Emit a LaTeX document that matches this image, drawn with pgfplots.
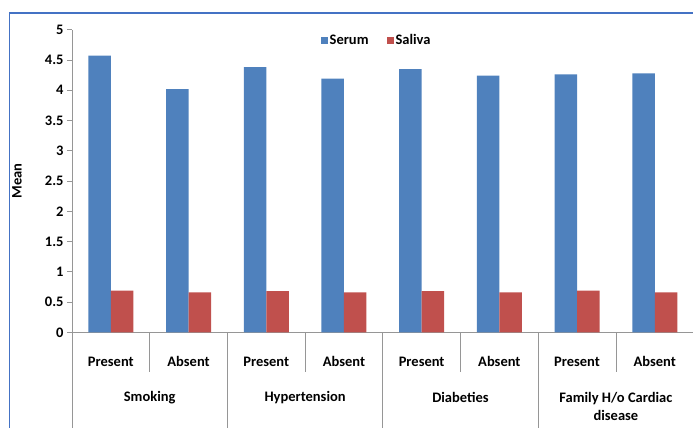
\documentclass[border=0pt]{standalone}
\usepackage{fontspec}
\setmainfont{Carlito}
\usepackage{pgfplots}
\pgfplotsset{compat=1.18}
\definecolor{serum}{RGB}{79,129,189}
\definecolor{saliva}{RGB}{192,80,77}
\definecolor{axisgray}{RGB}{150,150,150}
\definecolor{frameblue}{RGB}{68,114,196}
\newcommand{\lbl}{\fontsize{14.5bp}{18bp}\selectfont\bfseries}

\begin{document}
\begin{tikzpicture}
\path[use as bounding box] (0,0) rectangle (693bp,428bp);
% chart frame
\draw[frameblue, line width=1.5bp] (9.5bp,0) -- (9.5bp,415bp) -- (693bp,415bp);
\begin{axis}[
  at={(72bp,95.7bp)}, anchor=south west,
  scale only axis, width=621.6bp, height=302.6bp,
  xmin=-0.5, xmax=7.5, ymin=0, ymax=5,
  enlargelimits=false, clip=false,
  axis x line*=bottom, axis y line*=left,
  axis line style={axisgray, line width=0.8bp},
  tick align=outside, major tick length=5bp,
  ytick={0,0.5,1,1.5,2,2.5,3,3.5,4,4.5,5},
  ytick style={axisgray, line width=0.8bp},
  yticklabel style={font=\lbl},
  /pgf/number format/.cd, fixed, assume math mode=true, /pgfplots/.cd,
  xtick={0,...,7},
  xticklabels={Present,Absent,Present,Absent,Present,Absent,Present,Absent},
  xtick style={/pgfplots/major tick length=0pt, draw=none},
  xticklabel style={font=\lbl, anchor=center, yshift=-24.4bp},
  ylabel={Mean},
  ylabel style={font=\lbl, at={(axis description cs:-0.0885,0.5)}, anchor=center},
  ybar=0pt, bar width=22.5bp,
  legend columns=2,
  legend style={draw=none, fill=none, font=\lbl,
    at={(axis description cs:0.49,0.964)}, anchor=center,
    /tikz/every even column/.append style={column sep=16bp}},
  legend image code/.code={\fill[#1] (0bp,-3.5bp) rectangle (7bp,3.5bp);},
]
\addplot[fill=serum, draw=none] coordinates {
  (0,4.57) (1,4.02) (2,4.38) (3,4.19) (4,4.35) (5,4.24) (6,4.26) (7,4.28)};
\addplot[fill=saliva, draw=none] coordinates {
  (0,0.69) (1,0.66) (2,0.68) (3,0.66) (4,0.68) (5,0.66) (6,0.69) (7,0.66)};
\legend{Serum, Saliva}
% category dividers below the axis
\pgfplotsinvokeforeach{0.5,2.5,4.5,6.5}{
  \draw[axisgray, line width=0.8bp] (axis cs:#1,0) -- ++(0pt,-40bp);}
\pgfplotsinvokeforeach{-0.5,1.5,3.5,5.5,7.5}{
  \draw[axisgray, line width=0.8bp] (axis cs:#1,0) -- ++(0pt,-96bp);}
% group names
\node[font=\lbl, yshift=-65bp] at (axis cs:0.5,0) {Smoking};
\node[font=\lbl, yshift=-65bp] at (axis cs:2.5,0) {Hypertension};
\node[font=\lbl, yshift=-65bp] at (axis cs:4.5,0) {Diabeties};
\node[font=\lbl, align=center, yshift=-73.7bp] at (axis cs:6.5,0) {Family H/o Cardiac\\disease};
\end{axis}
\end{tikzpicture}
\end{document}
